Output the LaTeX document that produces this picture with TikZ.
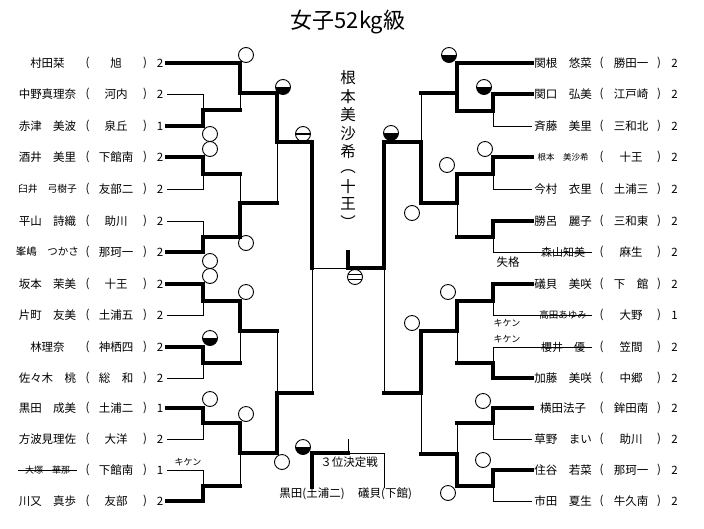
\documentclass[tikz,border=0pt]{standalone}
\usepackage{fontspec}
\setmainfont{Noto Sans CJK JP}
\newcommand\leftrow[6]{%
  \node[txt,#6] (ln#1) at (47.5,#2) {#3};
  \node[txt] (lo#1) at (87.5,#2) {(};
  \node[txt] (ls#1) at (116,#2) {#4};
  \node[txt] (lc#1) at (145,#2) {)};
  \node[txt] (lr#1) at (160,#2) {#5};
  \coordinate (L#1) at (167,#2);}
\newcommand\rightrow[6]{%
  \node[txt,#6] (rn#1) at (563,#2) {#3};
  \node[txt] (ro#1) at (601.5,#2) {(};
  \node[txt] (rs#1) at (631,#2) {#4};
  \node[txt] (rc#1) at (659,#2) {)};
  \node[txt] (rr#1) at (674.5,#2) {#5};
  \coordinate (R#1) at (532,#2);
  \coordinate (S#1) at (592,#2);}
\begin{document}
\begin{tikzpicture}[x=1pt,y=-1pt,
  thk/.style={line width=4pt,line cap=rect},
  thn/.style={line width=0.9pt},
  txt/.style={inner sep=0pt,font=\fontsize{11.5}{12}\selectfont},
  sm/.style={font=\fontsize{#1}{#1}\selectfont},
  oc/.style={circle,draw,line width=0.9pt,minimum size=15pt,inner sep=0pt},
  hc/.style={oc,path picture={\fill (path picture bounding box.west) rectangle (path picture bounding box.south east);}},
  mc/.style={oc,path picture={\draw[line width=1.6pt] (path picture bounding box.west) -- (path picture bounding box.east);}},
  dc/.style={oc,path picture={\draw[line width=1.4pt] ([yshift=2.3pt]path picture bounding box.west) -- ([yshift=2.3pt]path picture bounding box.east);
     \draw[line width=1.4pt] ([yshift=-2.3pt]path picture bounding box.west) -- ([yshift=-2.3pt]path picture bounding box.east);}},
  vt/.style={inner sep=0pt,font=\fontsize{15.5}{15.5}\selectfont},
  lab/.style={inner sep=0pt,font=\fontsize{9}{9}\selectfont}]
\useasboundingbox (0,0) rectangle (704,528);

\node[inner sep=0pt,font=\fontsize{22}{22}\selectfont] (title) at (348,22) {女子52kg級};

% left entries
\leftrow{1}{63}{村田栞}{旭}{2}{}
\leftrow{2}{94}{中野真理奈}{河内}{2}{}
\leftrow{3}{126}{赤津　美波}{泉丘}{1}{}
\leftrow{4}{157}{酒井　美里}{下館南}{2}{}
\leftrow{5}{189}{臼井　弓樹子}{友部二}{2}{sm=9.8}
\leftrow{6}{221}{平山　詩織}{助川}{2}{}
\leftrow{7}{252}{峯嶋　つかさ}{那珂一}{2}{sm=10.5}
\leftrow{8}{284}{坂本　茉美}{十王}{2}{}
\leftrow{9}{315}{片町　友美}{土浦五}{2}{}
\leftrow{10}{347}{林理奈}{神栖四}{2}{}
\leftrow{11}{378}{佐々木　桃}{総　和}{2}{}
\leftrow{12}{408}{黒田　成美}{土浦二}{1}{}
\leftrow{13}{439}{方波見理佐}{大洋}{2}{}
\leftrow{14}{470}{大塚　華那}{下館南}{1}{sm=9}
\leftrow{15}{501}{川又　真歩}{友部}{2}{}

% right entries
\rightrow{1}{63}{関根　悠菜}{勝田一}{2}{}
\rightrow{2}{94}{関口　弘美}{江戸崎}{2}{}
\rightrow{3}{126}{斉藤　美里}{三和北}{2}{}
\rightrow{4}{157}{根本　美沙希}{十王}{2}{sm=8.5}
\rightrow{5}{189}{今村　衣里}{土浦三}{2}{}
\rightrow{6}{221}{勝呂　麗子}{三和東}{2}{}
\rightrow{7}{252}{森山知美}{麻生}{2}{sm=11}
\rightrow{8}{284}{礒貝　美咲}{下　館}{2}{}
\rightrow{9}{315}{高田あゆみ}{大野}{1}{sm=9.5}
\rightrow{10}{347}{櫻井　優}{笠間}{2}{sm=11}
\rightrow{11}{378}{加藤　美咲}{中郷}{2}{}
\rightrow{12}{408}{横田法子}{鉾田南}{2}{}
\rightrow{13}{439}{草野　まい}{助川}{2}{}
\rightrow{14}{470}{住谷　若菜}{那珂一}{2}{}
\rightrow{15}{501}{市田　夏生}{牛久南}{2}{}

% left bracket
\draw[thk] (L1) -- (240,63) -- (240,93) -- (277,93) -- (277,142) -- (312,142) -- (312,268);
\draw[thn] (240,93) -- (240,110);
\draw[thn] (L2) -- (203,94) -- (203,110);
\draw[thk] (L3) -- (203,126) -- (203,110) -- (240,110);
\draw[thk] (L4) -- (203,157) -- (203,174) -- (240,174);
\draw[thn] (240,174) -- (240,203);
\draw[thn] (L5) -- (203,189) -- (203,174);
\draw[thn] (L6) -- (203,221) -- (203,237);
\draw[thk] (L7) -- (203,252) -- (203,237) -- (240,237) -- (240,203) -- (277,203);
\draw[thn] (277,203) -- (277,142);
\draw[thk] (L8) -- (203,284) -- (203,301) -- (240,301) -- (240,331) -- (277,331);
\draw[thn] (277,331) -- (277,393);
\draw[thn] (L9) -- (203,315) -- (203,301);
\draw[thk] (L10) -- (203,347) -- (203,363) -- (240,363);
\draw[thn] (240,363) -- (240,331);
\draw[thn] (L11) -- (203,378) -- (203,363);
\draw[thk] (L12) -- (203,408) -- (203,423) -- (240,423) -- (240,453) -- (277,453) -- (277,393) -- (312,393);
\draw[thn] (312,393) -- (312,268) -- (348,268);
\draw[thn] (L13) -- (203,439) -- (203,423);
\draw[thn] (L14) -- (203,470) -- (203,486);
\draw[thk] (L15) -- (203,501) -- (203,486) -- (240,486);
\draw[thn] (240,486) -- (240,453);
\draw[thn] ([xshift=-7pt]ln14.west) -- ([xshift=7pt]ln14.east);

% right bracket
\draw[thk] (R1) -- (457,63) -- (457,111);
\draw[thk] (457,93) -- (421,93);
\draw[thn] (421,93) -- (421,142);
\draw[thk] (R2) -- (493,94) -- (493,111) -- (457,111);
\draw[thn] (R3) -- (493,126) -- (493,111);
\draw[thk] (R4) -- (493,157) -- (493,174) -- (457,174) -- (457,203) -- (421,203) -- (421,142) -- (384,142) -- (384,268) -- (348,268) -- (348,252);
\draw[thn] (R5) -- (493,189) -- (493,174);
\draw[thk] (R6) -- (493,221) -- (493,237) -- (457,237);
\draw[thn] (457,237) -- (457,203);
\draw[thn] (S7) -- (493,252) -- (493,237);
\draw[thk] (R8) -- (493,284) -- (493,301) -- (457,301) -- (457,331) -- (421,331) -- (421,393) -- (384,393);
\draw[thn] (384,393) -- (384,268);
\draw[thn] (S9) -- (493,315) -- (493,301);
\draw[thn] (S10) -- (493,347) -- (493,363);
\draw[thk] (R11) -- (493,378) -- (493,363) -- (457,363);
\draw[thn] (457,363) -- (457,331);
\draw[thk] (R12) -- (493,408) -- (493,423) -- (457,423);
\draw[thn] (457,423) -- (457,454);
\draw[thn] (R13) -- (493,439) -- (493,423);
\draw[thk] (R14) -- (493,470) -- (493,486) -- (457,486) -- (457,454) -- (421,454);
\draw[thn] (421,454) -- (421,393);
\draw[thn] (R15) -- (493,501) -- (493,486);

% third place
\coordinate (tpl) at (312,487);
\coordinate (tpr) at (384,488);
\coordinate (tpm) at (348,453);
\draw[thk] (tpl) -- (312,453) -- (tpm);
\draw[thn] (tpm) -- (384,453) -- (tpr);
\draw[thn] (tpm) -- (348,439);
\node[txt] (tpt) at (349,462) {３位決定戦};
\node[txt] (tpa) at (312,494) {黒田(土浦二)};
\node[txt] (tpb) at (385,494) {礒貝(下館)};

% labels
\node[lab] (k1) at (188,462) {キケン};
\node[lab] (k2) at (507,323) {キケン};
\node[lab] (k3) at (507,339) {キケン};
\node[txt] (sk) at (508,262) {失格};

% champion (vertical)
\node[vt] (v1) at (348,78) {根};
\node[vt] (v2) at (348,97) {本};
\node[vt] (v3) at (348,115) {美};
\node[vt] (v4) at (348,134) {沙};
\node[vt] (v5) at (348,152) {希};
\node[vt] (v6) at (348,172) {︵};
\node[vt] (v7) at (348,187) {十};
\node[vt] (v8) at (348,204) {王};
\node[vt] (v9) at (348,222) {︶};

% marks
\node[oc] (a1) at (246,55) {};
\node[oc] (a2) at (210,134) {};
\node[oc] (a3) at (210,149) {};
\node[hc] (a4) at (283,87) {};
\node[mc] (a5) at (303,134) {};
\node[oc] (a6) at (246,243) {};
\node[oc] (a7) at (210,261) {};
\node[oc] (a8) at (210,276) {};
\node[oc] (a9) at (246,292) {};
\node[hc] (a10) at (210,338) {};
\node[oc] (a11) at (210,399) {};
\node[oc] (a12) at (246,414) {};
\node[oc] (a13) at (282,462) {};
\node[hc] (a14) at (303,447) {};
\node[dc] (a15) at (355,277) {};
\node[hc] (b1) at (449,55) {};
\node[hc] (b2) at (484,87) {};
\node[hc] (b3) at (391,133) {};
\node[oc] (b4) at (485,149) {};
\node[oc] (b5) at (447,165) {};
\node[oc] (b6) at (412,213) {};
\node[oc] (b7) at (448,292) {};
\node[oc] (b8) at (412,323) {};
\node[oc] (b9) at (483,401) {};
\node[oc] (b10) at (483,460) {};
\node[oc] (b11) at (448,493) {};
\end{tikzpicture}
\end{document}
